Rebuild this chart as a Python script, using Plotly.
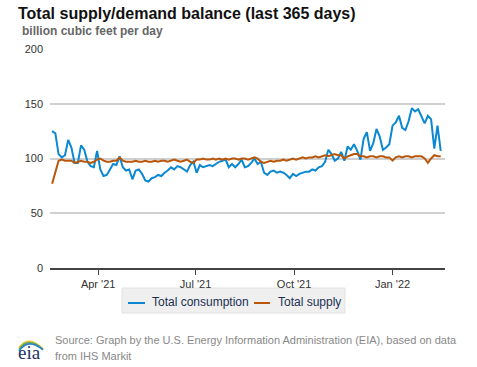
import plotly.graph_objects as go
import pandas as pd

# ---- data (3-day samples) ----
start_date = "2021-02-17"
consumption = [125, 123, 104, 101, 103, 117, 110, 96, 96, 112,
               108, 97, 93, 92, 107, 90, 84, 85, 90, 95,
               94, 102, 92, 89, 90, 81, 89, 90, 86, 80,
               79, 82, 83, 85, 84, 87, 89, 92, 90, 93,
               92, 90, 88, 94, 97, 87, 94, 92, 93, 94,
               93, 95, 97, 98, 99, 92, 95, 92, 95, 99,
               92, 93, 96, 100, 95, 97, 87, 85, 88, 89,
               87, 88, 87, 85, 82, 86, 84, 86, 87, 88,
               88, 90, 89, 92, 93, 97, 108, 104, 98, 100,
               106, 98, 111, 108, 113, 107, 99, 118, 124, 107,
               114, 127, 120, 108, 110, 113, 130, 133, 139, 128,
               126, 134, 146, 143, 145, 138, 132, 139, 136, 109,
               130, 107]
supply = [77, 88, 98, 99, 98, 98, 98, 96, 97, 98,
          97, 97, 96, 97, 99, 100, 98, 97, 97, 98,
          98, 101, 98, 97, 97, 97, 98, 97, 97, 98,
          97, 97, 98, 97, 98, 98, 97, 98, 99, 98,
          97, 98, 99, 97, 96, 99, 99, 100, 99, 99,
          100, 99, 100, 99, 100, 99, 100, 100, 99, 100,
          100, 99, 100, 101, 100, 97, 96, 97, 98, 97,
          98, 98, 99, 98, 99, 100, 99, 100, 101, 100,
          101, 101, 102, 101, 102, 103, 102, 103, 104, 103,
          103, 100, 102, 103, 104, 104, 102, 102, 101, 102,
          102, 101, 102, 102, 101, 101, 98, 101, 102, 101,
          102, 102, 101, 102, 102, 102, 100, 96, 100, 103,
          102, 102]
series_names = ["Total consumption", "Total supply"]
series_colors = ["#0a88d2", "#b8570b"]
dates = pd.date_range(start_date, periods=len(consumption), freq="3D")
y_ticks = [0, 50, 100, 150, 200]
x_ticks = ["2021-04-01", "2021-07-01", "2021-10-01", "2022-01-01"]
x_range = ["2021-02-15", "2022-02-19"]

W, H = 477, 367
L, R, T, B = 50, 445, 49, 268


def px(x):
    return (x - L) / (R - L)


def py(y):
    return (B - y) / (B - T)


fig = go.Figure()
for name, vals, col in zip(series_names, [consumption, supply], series_colors):
    fig.add_trace(go.Scatter(x=dates, y=vals, mode="lines", name=name,
                             line=dict(color=col, width=2)))

fig.update_layout(
    width=W, height=H,
    margin=dict(l=L, r=W - R, t=T, b=H - B),
    paper_bgcolor="white", plot_bgcolor="white",
    font=dict(family="Liberation Sans, Arial, sans-serif", color="#333333", size=11),
    showlegend=False,
    xaxis=dict(range=x_range, type="date", tickvals=x_ticks, tickformat="%b '%y",
               showgrid=False, zeroline=False, showline=True, linecolor="#444444",
               linewidth=1.5, ticks="outside", ticklen=5, tickcolor="#444444",
               tickfont=dict(size=11, color="#333333")),
    yaxis=dict(range=[0, 200], tickvals=y_ticks, showgrid=True, gridcolor="#d0d0d0",
               gridwidth=2, zeroline=False, showline=False, ticks="",
               ticklabelstandoff=6,
               tickfont=dict(size=11, color="#333333")),
)

# legend drawn by hand to match the reference box
fig.add_shape(type="rect", xref="paper", yref="paper",
              x0=px(122), x1=px(345), y0=py(313), y1=py(288),
              fillcolor="#efefef", line=dict(color="#e2e2e2", width=1), layer="below")
leg_pos = [(128, 145, 150), (254, 270, 276)]
for (lx0, lx1, tx), name, col in zip(leg_pos, series_names, series_colors):
    fig.add_shape(type="line", xref="paper", yref="paper",
                  x0=px(lx0), x1=px(lx1), y0=py(303), y1=py(303),
                  line=dict(color=col, width=2))
    fig.add_annotation(xref="paper", yref="paper", xanchor="left", yanchor="middle",
                       showarrow=False, text=name, x=px(tx), y=py(302),
                       font=dict(size=12, color="#1c2f52"))

ann = [
    dict(text="<b>Total supply/demand balance (last 365 days)</b>", x=px(16), y=py(14),
         font=dict(size=16, color="#111111")),
    dict(text="<b>billion cubic feet per day</b>", x=px(20), y=py(31),
         font=dict(size=12, color="#666666")),
    dict(text="Source: Graph by the U.S. Energy Information Administration (EIA), based on data",
         x=px(53), y=py(340), font=dict(size=11, color="#888888")),
    dict(text="from IHS Markit", x=px(53), y=py(356), font=dict(size=11, color="#888888")),
    dict(text="eia", x=px(16), y=py(352),
         font=dict(size=19, color="#1a3466", family="Liberation Serif, DejaVu Serif, serif")),
]
for a in ann:
    fig.add_annotation(xref="paper", yref="paper", xanchor="left", yanchor="middle",
                       showarrow=False, **a)

# EIA logo arcs
arcs = [("#f2c230", 0.0), ("#5db14a", 1.6), ("#2f7fc8", 3.2)]
for col, dy in arcs:
    fig.add_shape(type="path", xref="paper", yref="paper",
                  path=(f"M {px(19)},{py(348 + dy)} Q {px(28)},{py(334 + dy)} "
                        f"{px(43)},{py(349 + dy * 0.3)}"),
                  line=dict(color=col, width=1.6))

fig.write_html("out.html", config={"displayModeBar": False},
               post_script="document.body.style.margin='0';"
                           "document.body.style.overflow='hidden';")
